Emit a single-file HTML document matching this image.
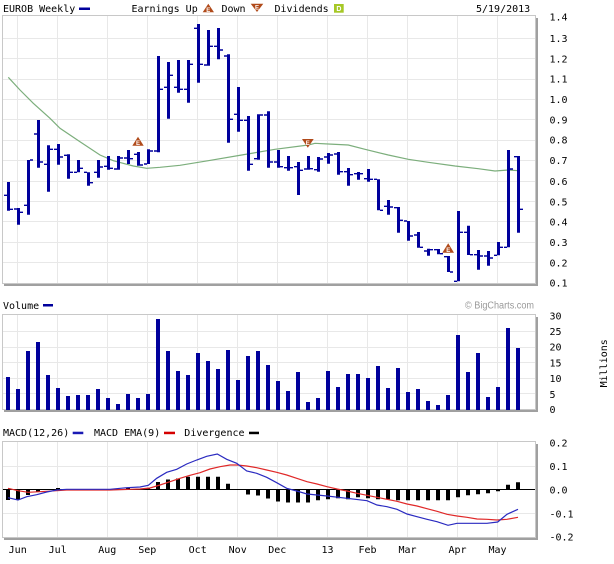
<!DOCTYPE html>
<html><head><meta charset="utf-8"><style>
html,body{margin:0;padding:0;background:#fff;}
svg{display:block;}
.t{font-family:"DejaVu Sans Mono","Liberation Mono",monospace;font-size:10px;fill:#000;}
.e{font-family:"Liberation Sans",sans-serif;font-size:6px;font-weight:bold;fill:#fff;}
</style></head><body>
<svg width="614" height="564" viewBox="0 0 614 564" xmlns="http://www.w3.org/2000/svg">
<rect width="614" height="564" fill="#fff"/>

<text class="t" x="3" y="12">EUROB Weekly</text>
<rect x="79" y="7.5" width="11" height="2.5" fill="#00009c"/>
<text class="t" x="131.5" y="12">Earnings Up</text>
<polygon points="208.3,3.7 214,12.3 202.7,12.3" fill="#b04a1a"/>
<text class="e" x="208.3" y="11.8" text-anchor="middle">E</text>
<text class="t" x="221.5" y="12">Down</text>
<polygon points="250.7,3.7 263.3,3.7 257,12" fill="#b04a1a"/>
<text class="e" x="257" y="9.5" text-anchor="middle">E</text>
<text class="t" x="274.5" y="12">Dividends</text>
<rect x="334" y="4" width="9.7" height="8.7" fill="#a6c826"/>
<text x="338.9" y="11" font-family="Liberation Sans,sans-serif" font-size="7" font-weight="bold" fill="#fff" text-anchor="middle">D</text>
<text class="t" x="476" y="12">5/19/2013</text>

<!-- shadows -->
<g fill="#a0a0a0">
<rect x="536" y="18" width="2" height="268"/><rect x="4" y="284" width="534" height="2"/>
<rect x="536" y="317" width="2" height="95"/><rect x="4" y="410" width="534" height="2"/>
<rect x="536" y="444" width="2" height="96"/><rect x="4" y="538" width="534" height="2"/>
</g>

<!-- gridlines -->
<path fill="none" stroke="#e8e8e8" stroke-width="1" d="M3 38.5H535M3 58.5H535M3 79.5H535M3 99.5H535M3 119.5H535M3 140.5H535M3 160.5H535M3 181.5H535M3 201.5H535M3 221.5H535M3 242.5H535M3 262.5H535
M3 331.5H535M3 347.5H535M3 362.5H535M3 378.5H535M3 393.5H535
M3 466.5H535M3 513.5H535
M17.5 16V283M57.5 16V283M107.5 16V283M147.5 16V283M197.5 16V283M237.5 16V283M277.5 16V283M327.5 16V283M367.5 16V283M407.5 16V283M457.5 16V283M497.5 16V283
M17.5 315V409M57.5 315V409M107.5 315V409M147.5 315V409M197.5 315V409M237.5 315V409M277.5 315V409M327.5 315V409M367.5 315V409M407.5 315V409M457.5 315V409M497.5 315V409
M17.5 442V537M57.5 442V537M107.5 442V537M147.5 442V537M197.5 442V537M237.5 442V537M277.5 442V537M327.5 442V537M367.5 442V537M407.5 442V537M457.5 442V537M497.5 442V537"/>

<!-- borders -->
<g fill="none" stroke="#c8c8c8" stroke-width="1">
<rect x="2.5" y="15.5" width="533" height="268"/>
<rect x="2.5" y="314.5" width="533" height="95"/>
<rect x="2.5" y="441.5" width="533" height="96"/>
</g>

<!-- moving average -->
<polyline fill="none" stroke="#7cae7c" stroke-width="1.2" points="8.3,77.3 20,90 33.3,103.3 50,118.3 60,128.3 80,141.7 100,155 113.3,160.7 133.3,166 146.7,168.3 160,167.3 180,165.3 208.3,160.7 241.7,155 275,149.3 308.3,145 315,143.3 328.3,144 348.3,145 365,149.3 388.3,155 408.3,159.3 428.3,162.3 455,166 478.3,168.7 495,171 508.3,170 518.3,170.7"/>

<!-- price bars: high-low -->
<path fill="none" stroke="#00009c" stroke-width="3" d="M8.5 182V210.7M18.5 208V224.7M28.5 160V214.7M38.5 120V167.7M48.5 145.3V191.7M58.5 144V164.7M68.5 154.3V178.7M78.5 160V172.3M88.5 172.3V185.7M98.5 160V177.7M108.5 156V169.7M118.5 156V169.7M128.5 150V164M138.5 152V165.7M148.5 149.3V164M158.5 56V152.3M168.5 62V118.7M178.5 60V92.7M188.5 60V102.7M198.5 24V82.7M208.5 30V65.7M218.5 28V59.3M228.5 54.3V142.7M238.5 87V131.7M248.5 116V170.7M258.5 114.3V159.7M268.5 111.3V167.7M278.5 150V167.7M288.5 156V170.7M298.5 162V195M308.5 156V169.7M318.5 157V171.7M328.5 153V163.7M338.5 152V174.7M348.5 168V185.7M358.5 172V179.7M368.5 169V181.7M378.5 179.3V210.3M388.5 200V214.7M398.5 207V232.7M408.5 221V240.7M418.5 232V247.7M428.5 248.7V255.7M438.5 249V254.3M448.5 256V272M458.5 211V281.3M468.5 225.7V255M478.5 250V269.7M488.5 251V265.7M498.5 242V255.3M508.5 150V247.3M518.5 156V232.7"/>
<!-- price bars: open/close ticks -->
<path fill="none" stroke="#00009c" stroke-width="1.4" d="M4 195.3h3M10 209.3h3M14 209h3M20 212.3h3M24 205.3h3M30 160h3M34 134h3M40 162h3M44 164.3h3M50 149.3h3M54 149.3h3M60 157h3M64 155.3h3M70 172.3h3M74 172.3h3M80 168.3h3M84 172.3h3M90 182.7h3M94 172.3h3M100 167h3M104 166.3h3M110 168.3h3M114 169h3M120 158h3M124 158h3M130 158.7h3M134 154.3h3M140 165h3M144 164h3M150 151h3M154 151h3M160 89.3h3M164 87.3h3M170 75.3h3M174 87.3h3M180 89.3h3M184 89.3h3M190 64.3h3M194 28.3h3M200 64.3h3M204 65h3M210 46.3h3M214 46.3h3M220 50h3M224 56h3M230 119.3h3M234 114.3h3M240 120.3h3M244 120.3h3M250 164.3h3M254 158.7h3M260 115h3M264 115h3M270 162h3M274 162h3M280 166.7h3M284 167.7h3M290 167.7h3M294 166.7h3M300 170.3h3M304 169h3M310 168.7h3M314 169.7h3M320 159h3M324 157h3M330 155h3M334 154h3M340 171.7h3M344 171.7h3M350 174.7h3M354 173.7h3M360 173.7h3M364 178.7h3M370 179.3h3M374 179.3h3M380 210.3h3M384 206.3h3M390 207h3M394 207.7h3M400 220.3h3M404 221h3M410 236h3M414 235h3M420 247.3h3M424 251h3M430 249.7h3M434 249.7h3M440 253.7h3M444 256.7h3M450 272h3M454 281.3h3M460 232.3h3M464 232.3h3M470 254.7h3M474 254.7h3M480 256h3M484 256h3M490 258h3M494 255.3h3M500 247.3h3M504 247.3h3M510 169h3M514 156.7h3M520 209.3h3"/>

<!-- earnings markers -->
<polygon points="138,136.7 143.7,145.7 132.3,145.7" fill="#b04a1a"/>
<text class="e" x="138" y="145" text-anchor="middle">E</text>
<polygon points="302,139 313.7,139 307.8,147.7" fill="#b04a1a"/>
<text class="e" x="307.8" y="144.8" text-anchor="middle">E</text>
<polygon points="448.2,243.3 454,252.7 442.3,252.7" fill="#b04a1a"/>
<text class="e" x="448.2" y="251.9" text-anchor="middle">E</text>

<!-- price axis -->
<text class="t" x="549.5" y="20.7">1.4</text>
<text class="t" x="549.5" y="42">1.3</text>
<text class="t" x="549.5" y="62.3">1.2</text>
<text class="t" x="549.5" y="82.7">1.1</text>
<text class="t" x="549.5" y="103">1.0</text>
<text class="t" x="549.5" y="123.3">0.9</text>
<text class="t" x="549.5" y="143.7">0.8</text>
<text class="t" x="549.5" y="164">0.7</text>
<text class="t" x="549.5" y="185">0.6</text>
<text class="t" x="549.5" y="205.3">0.5</text>
<text class="t" x="549.5" y="225.3">0.4</text>
<text class="t" x="549.5" y="246">0.3</text>
<text class="t" x="549.5" y="266.3">0.2</text>
<text class="t" x="549.5" y="286.7">0.1</text>

<!-- volume -->
<text class="t" x="3" y="309">Volume</text>
<rect x="43" y="304" width="10" height="2.5" fill="#00009c"/>
<text x="465" y="308.5" font-family="Liberation Sans,sans-serif" font-size="10" fill="#999" textLength="69" lengthAdjust="spacingAndGlyphs">© BigCharts.com</text>
<path fill="none" stroke="#00009c" stroke-width="4" d="M8 377V410M18 389V410M28 351V410M38 342V410M48 375V410M58 388V410M68 396V410M78 395V410M88 395V410M98 389V410M108 398V410M118 404V410M128 394V410M138 398V410M148 394V410M158 319V410M168 351V410M178 371V410M188 375V410M198 353V410M208 361V410M218 369V410M228 350V410M238 380V410M248 356V410M258 351V410M268 365V410M278 381V410M288 391V410M298 372V410M308 402V410M318 398V410M328 371V410M338 387V410M348 374V410M358 374V410M368 378V410M378 366V410M388 388V410M398 368V410M408 392V410M418 389V410M428 401V410M438 405V410M448 395V410M458 335V410M468 372V410M478 353V410M488 397V410M498 387V410M508 328V410M518 348V410"/>
<text class="t" x="549.5" y="319.3">30</text>
<text class="t" x="549.5" y="335">25</text>
<text class="t" x="549.5" y="350.7">20</text>
<text class="t" x="549.5" y="366.3">15</text>
<text class="t" x="549.5" y="382">10</text>
<text class="t" x="549.5" y="398">5</text>
<text class="t" x="549.5" y="413">0</text>
<text class="t" transform="translate(607,363.3) rotate(-90)" text-anchor="middle">Millions</text>

<!-- MACD -->
<text class="t" x="3" y="436">MACD(12,26)</text>
<rect x="72.7" y="431.7" width="10.6" height="2.5" fill="#1a1ab4"/>
<text class="t" x="94" y="436">MACD EMA(9)</text>
<rect x="164" y="431.7" width="11" height="2.5" fill="#d40000"/>
<text class="t" x="184.3" y="436">Divergence</text>
<rect x="249" y="431.7" width="10" height="2.5" fill="#000"/>
<path fill="none" stroke="#000" stroke-width="4" d="M8 489V500M18 489V500M28 489V495M38 489V492M48 489V490M58 489V488M128 489V488M148 489V488M158 489V482M168 489V479.5M178 489V478.5M188 489V476.7M198 489V476.7M208 489V476.7M218 489V476.7M228 489V483.7M248 489V494.5M258 489V495.5M268 489V498.5M278 489V501.5M288 489V502.5M298 489V502.5M308 489V502.5M318 489V500.3M328 489V499.3M338 489V498.3M348 489V499.3M358 489V497.3M368 489V498.3M378 489V499.3M388 489V499.3M398 489V500.3M408 489V500.3M418 489V500.3M428 489V500.3M438 489V500.3M448 489V500.3M458 489V497.3M468 489V495.3M478 489V494.3M488 489V493.3M498 489V491.3M508 489V484.7M518 489V482.3"/>
<rect x="3" y="489" width="532" height="1" fill="#000"/>
<polyline fill="none" stroke="#e02828" stroke-width="1.2" points="8,488.3 18,490.7 28,492.3 46.7,491.3 66.7,490 110,490 140,489 150,488 160,485 170,481.7 180,478.3 190,475.3 200,472.7 210,469 220,466.7 230,465 237.3,465 246.7,466 256.7,467.7 266.7,470 276.7,472.3 286.7,475 296.7,478.3 307,481.7 317,484 327,486.7 337,489 347,491 357,493.3 367,495.3 377,497.3 387,499.3 397,501.3 407,504 417,506 427,508.7 437,511.3 447,514.3 457,516 467,517.3 477,519 487,519.3 497,520 507,519.3 518,517.3"/>
<polyline fill="none" stroke="#2a2ac0" stroke-width="1.2" points="8,497.7 18,500 26.7,496.7 36.7,494.7 46.7,492 56.7,490 66.7,489.3 110,489.3 126.7,487.7 140,487 148.3,485.3 156.7,478.3 166.7,472.3 176.7,469.3 186.7,464 196.7,460 206.7,456.3 217.3,454 226.7,459.3 236.7,463.3 246.7,471 256.7,473.3 266.7,477.3 276.7,482.7 286.7,488.3 296.7,491 307,494 327,496 347,498.3 367,500.7 377,505 387,506.7 397,509.3 407,514 417,516.7 427,519.3 437,521.7 448,525.3 457,523.3 467,523.3 487,523.3 497.7,522 507,514.3 518,509.3"/>
<text class="t" x="549.5" y="446.7">0.2</text>
<text class="t" x="549.5" y="470">0.1</text>
<text class="t" x="549.5" y="493.3">0.0</text>
<text class="t" x="549.5" y="517.3">-0.1</text>
<text class="t" x="549.5" y="540.7">-0.2</text>

<!-- months -->
<g text-anchor="middle">
<text class="t" x="17.7" y="553">Jun</text>
<text class="t" x="57.7" y="553">Jul</text>
<text class="t" x="107.3" y="553">Aug</text>
<text class="t" x="147.3" y="553">Sep</text>
<text class="t" x="197.7" y="553">Oct</text>
<text class="t" x="237.7" y="553">Nov</text>
<text class="t" x="277.3" y="553">Dec</text>
<text class="t" x="327.5" y="553">13</text>
<text class="t" x="367.5" y="553">Feb</text>
<text class="t" x="407.5" y="553">Mar</text>
<text class="t" x="457.5" y="553">Apr</text>
<text class="t" x="497.5" y="553">May</text>
</g>
</svg>
</body></html>
